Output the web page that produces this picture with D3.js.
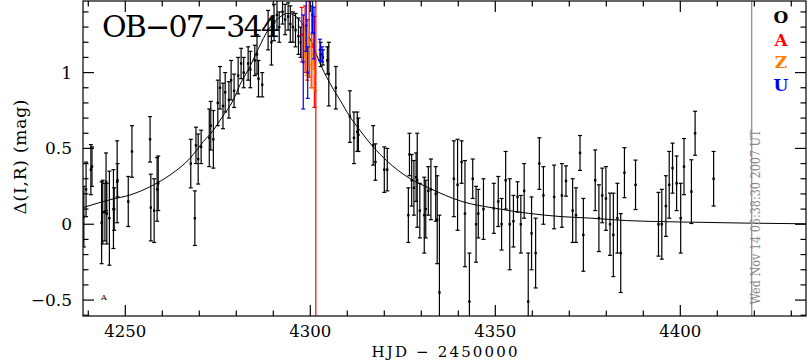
<!DOCTYPE html>
<head>
<meta charset="utf-8">
<script src="https://d3js.org/d3.v7.min.js"></script>
<style>
  body { margin: 0; background: #fff; }
  text { font-family: "DejaVu Serif", serif; }
</style>
</head>
<body>
<svg id="chart" width="807" height="362"></svg>
<script>
// O (black) data: time, magnitude difference, error
var oT = [4238.8,4239.4,4240.7,4241.0,4243.6,4243.9,4244.5,4244.8,4245.0,4245.7,4246.8,4247.0,4247.8,4247.9,4250.8,4251.8,4256.7,4256.9,4257.8,4258.6,4258.9,
  4267.7,4268.8,4269.1,4269.7,4270.5,4272.7,4273.1,4273.8,4275.0,4275.6,4276.4,4277.0,4278.0,4278.6,4279.4,4280.5,4281.3,4282.0,4283.2,4283.8,4285.0,4285.6,4286.0,4287.0,
  4288.6,4289.5,4290.2,4291.0,4291.6,4292.5,4293.2,4294.0,4294.6,4295.3,4296.0,4296.8,4297.4,4302.8,4303.4,4304.6,4305.0,4306.9,
  4310.7,4311.8,4312.7,4313.0,4317.0,4317.6,4320.0,4320.8,4326.8,4326.5,4327.4,4328.0,4328.6,4328.9,4329.6,4330.8,4331.2,4331.9,4332.6,4333.9,4334.3,4334.9,
  4338.8,4339.8,4340.9,4341.8,4343.0,4343.9,4344.8,4345.4,4346.8,4349.6,4350.8,4351.7,4352.8,4353.9,4354.9,4356.0,4356.9,4357.8,4358.9,4359.8,4360.9,4361.9,4363.0,
  4365.9,4368.0,4369.1,4370.9,4371.8,4372.9,4373.8,4377.0,4378.0,4378.9,4379.9,4381.0,4381.9,4383.0,4383.9,4384.9,4387.9,
  4394.1,4395.0,4396.1,4397.0,4397.9,4399.0,4400.1,4401.0,4403.0,4404.0,4409.0];
var oMag = [0.05,0.23,0.36,0.38,0.01,0.08,0.08,0.28,0.07,0.04,0.10,0.10,0.28,0.29,0.15,0.48,0.56,0.11,0.09,0.23,0.27,
  0.40,0.04,0.52,0.43,0.51,0.57,0.65,0.56,0.80,0.90,0.78,0.87,0.82,0.95,0.88,0.98,1.06,1.00,1.06,1.02,1.08,1.12,0.96,0.92,
  1.28,1.20,1.33,1.38,1.30,1.40,1.35,1.37,1.32,1.30,1.28,1.24,1.20,1.12,1.10,1.08,0.99,0.90,
  0.71,0.57,0.61,0.59,0.52,0.41,0.36,0.36,0.46,0.06,0.29,0.24,0.31,0.29,0.09,0.06,0.10,0.22,0.23,0.20,0.03,-0.45,
  0.30,0.26,0.41,0.07,-0.51,0.30,0.00,0.07,0.10,0.105,0.15,0.00,0.29,0.00,0.02,0.18,0.00,0.22,-0.51,-0.06,-0.19,0.40,0.19,
  0.18,0.19,0.285,0.09,0.06,0.47,-0.07,0.29,0.04,0.19,0.17,0.00,-0.07,0.04,-0.19,0.34,0.26,
  0.00,0.00,0.12,0.26,0.37,0.27,0.04,0.38,0.215,0.60,0.30];
var oErr = [0.20,0.18,0.165,0.13,0.27,0.21,0.19,0.19,0.20,0.31,0.26,0.14,0.27,0.11,0.165,0.17,0.15,0.22,0.21,0.21,0.18,
  0.16,0.18,0.12,0.165,0.11,0.19,0.16,0.19,0.15,0.14,0.15,0.13,0.12,0.13,0.11,0.12,0.10,0.10,0.11,0.12,0.10,0.13,0.12,0.08,
  0.13,0.15,0.12,0.10,0.10,0.08,0.10,0.09,0.12,0.10,0.11,0.12,0.10,0.08,0.05,0.09,0.21,0.14,
  0.17,0.17,0.13,0.11,0.13,0.12,0.15,0.14,0.14,0.18,0.17,0.18,0.16,0.31,0.18,0.25,0.19,0.16,0.20,0.18,0.29,0.51,
  0.25,0.30,0.14,0.35,0.32,0.13,0.25,0.16,0.20,0.165,0.165,0.17,0.19,0.30,0.17,0.10,0.19,0.18,0.32,0.24,0.23,0.17,0.19,
  0.21,0.21,0.10,0.21,0.18,0.115,0.24,0.20,0.22,0.18,0.21,0.205,0.275,0.23,0.26,0.165,0.163,
  0.21,0.23,0.20,0.22,0.165,0.18,0.23,0.185,0.21,0.145,0.18];

// A (red)
var aT = [4297.7,4298.6,4299.2,4299.7,4300.4,4301.1];
var aMag = [1.25,1.22,1.15,1.22,1.17,1.07];
var aErr = [0.18,0.22,0.20,0.25,0.27,0.30];
// Z (orange)
var zT = [4298.4,4299.0,4299.3,4299.6,4300.2,4300.8,4301.3];
var zMag = [1.20,1.10,1.25,1.15,1.05,1.12,1.00];
var zErr = [0.10,0.12,0.08,0.10,0.15,0.10,0.12];
// U (blue)
var uT = [4298.1,4298.9,4299.3,4300.6,4301.0,4302.6,4303.2];
var uMag = [1.07,1.31,1.00,1.38,1.26,1.15,1.12];
var uErr = [0.31,0.17,0.17,0.12,0.17,0.07,0.05];

// model curve
var fitT = [4238.6,4246.4,4251.3,4257.6,4262.1,4267.5,4271.1,4273.8,4276,4279.2,4281,4283.7,4286,4288.6,4291,4294,4297,4300,4303,4306,4308,4310.7,4313.4,4317,4320.6,4327,4332,4341,4350,4359,4368,4376,4385.5,4400,4419,4434];
var fitMag = [0.11,0.165,0.193,0.259,0.325,0.435,0.545,0.62,0.70,0.82,0.92,1.04,1.16,1.28,1.35,1.39,1.35,1.22,1.04,0.90,0.82,0.71,0.62,0.51,0.42,0.30,0.24,0.15,0.105,0.072,0.05,0.04,0.024,0.015,0.007,0.003];

var series = [
  {name: "A", color: "#ff0000", t: aT, m: aMag, e: aErr},
  {name: "Z", color: "#ff8000", t: zT, m: zMag, e: zErr},
  {name: "U", color: "#0000ff", t: uT, m: uMag, e: uErr}
];
var legend = ["O", "A", "Z", "U"];
var legendColors = ["#000000", "#ff0000", "#ff8000", "#0000ff"];
var xTicks = [4250, 4300, 4350, 4400];
var yTicks = [-0.5, 0, 0.5, 1];
var t0Line = 4301.5;
var stampT = 4419.3;

var svg = d3.select("#chart");
var pL = 83, pR = 806, pT = 1, pB = 316;

var x = d3.scaleLinear().domain([4238.57, 4433.97]).range([pL, pR]);
var y = d3.scaleLinear().domain([-0.605, 1.472]).range([pB, pT]);

svg.append("clipPath").attr("id", "clip")
  .append("rect").attr("x", pL).attr("y", pT).attr("width", pR - pL).attr("height", pB - pT);

var plot = svg.append("g").attr("clip-path", "url(#clip)");

function drawBars(g, t, m, e, color) {
  var d = t.map(function(v, i) { return {t: v, m: m[i], e: e[i]}; });
  var grp = g.append("g").attr("stroke", color).attr("stroke-width", 1.2).attr("fill", color);
  grp.selectAll("line.bar").data(d).enter().append("line")
    .attr("x1", function(p) { return x(p.t); }).attr("x2", function(p) { return x(p.t); })
    .attr("y1", function(p) { return y(p.m - p.e); }).attr("y2", function(p) { return y(p.m + p.e); });
  grp.selectAll("line.capt").data(d).enter().append("line")
    .attr("x1", function(p) { return x(p.t) - 2; }).attr("x2", function(p) { return x(p.t) + 2; })
    .attr("y1", function(p) { return y(p.m + p.e); }).attr("y2", function(p) { return y(p.m + p.e); });
  grp.selectAll("line.capb").data(d).enter().append("line")
    .attr("x1", function(p) { return x(p.t) - 2; }).attr("x2", function(p) { return x(p.t) + 2; })
    .attr("y1", function(p) { return y(p.m - p.e); }).attr("y2", function(p) { return y(p.m - p.e); });
  grp.selectAll("rect").data(d).enter().append("rect")
    .attr("x", function(p) { return x(p.t) - 1.2; }).attr("y", function(p) { return y(p.m) - 1.2; })
    .attr("width", 2.4).attr("height", 2.4).attr("stroke", "none");
}

drawBars(plot, oT, oMag, oErr, "#000");

var fit = fitT.map(function(v, i) { return [v, fitMag[i]]; });
plot.append("path").datum(fit)
  .attr("fill", "none").attr("stroke", "#000").attr("stroke-width", 1)
  .attr("d", d3.line().x(function(p) { return x(p[0]); }).y(function(p) { return y(p[1]); }).curve(d3.curveMonotoneX));

series.forEach(function(s) { drawBars(plot, s.t, s.m, s.e, s.color); });

plot.append("line").attr("x1", x(t0Line)).attr("x2", x(t0Line)).attr("y1", pT).attr("y2", pB)
  .attr("stroke", "#ff0000").attr("stroke-width", 1.2);

// timestamp line and text
svg.append("line").attr("x1", x(stampT)).attr("x2", x(stampT)).attr("y1", pT).attr("y2", pB)
  .attr("stroke", "#888").attr("stroke-width", 1.2);
svg.append("text").attr("transform", "translate(" + (x(stampT) + 8) + ",217) rotate(-90)")
  .attr("text-anchor", "middle").attr("font-size", 12).attr("fill", "#888")
  .attr("textLength", 175).attr("lengthAdjust", "spacingAndGlyphs")
  .text("Wed Nov 14 05:38:30 2007 UT");

// axes, ticks on all four sides
var axisG = svg.append("g").attr("stroke", "#000").attr("stroke-width", 1.2).attr("fill", "none");
axisG.append("rect").attr("x", pL).attr("y", pT).attr("width", pR - pL).attr("height", pB - pT);

var xMinor = d3.range(4240, 4434, 10);
xMinor.forEach(function(v) {
  var major = v % 50 === 0;
  var len = major ? 11 : 5.5;
  axisG.append("line").attr("x1", x(v)).attr("x2", x(v)).attr("y1", pB).attr("y2", pB - len);
  axisG.append("line").attr("x1", x(v)).attr("x2", x(v)).attr("y1", pT).attr("y2", pT + len);
});
var yMinor = d3.range(-6, 15).map(function(i) { return i / 10; });
yMinor.forEach(function(v) {
  var major = Math.round(Math.abs(v * 10)) % 5 === 0;
  var len = major ? 11 : 5.5;
  axisG.append("line").attr("x1", pL).attr("x2", pL + len).attr("y1", y(v)).attr("y2", y(v));
  axisG.append("line").attr("x1", pR).attr("x2", pR - len).attr("y1", y(v)).attr("y2", y(v));
});

svg.selectAll("text.xt").data(xTicks).enter().append("text")
  .attr("x", function(v) { return x(v); }).attr("y", 337)
  .attr("text-anchor", "middle").attr("font-size", 16.5)
  .text(function(v) { return v; });
svg.selectAll("text.yt").data(yTicks).enter().append("text")
  .attr("x", 72).attr("y", function(v) { return y(v) + 6; })
  .attr("text-anchor", "end").attr("font-size", 17)
  .text(function(v) { return v < 0 ? "\u2212" + Math.abs(v) : v; });

svg.append("text").attr("x", (pL + pR) / 2).attr("y", 357)
  .attr("text-anchor", "middle").attr("font-size", 15)
  .attr("textLength", 146).attr("lengthAdjust", "spacing")
  .text("HJD \u2212 2450000");
svg.append("text").attr("transform", "translate(26,157) rotate(-90)")
  .attr("text-anchor", "middle").attr("font-size", 17)
  .attr("textLength", 115).attr("lengthAdjust", "spacing")
  .text("\u0394(I,R) (mag)");

// title
svg.append("text").attr("x", 102).attr("y", 37).attr("font-size", 30)
  .attr("textLength", 178).attr("lengthAdjust", "spacing")
  .text("OB\u221207\u2212344");

// legend
svg.selectAll("text.lg").data(legend).enter().append("text")
  .attr("x", 781).attr("y", function(d, i) { return 23 + i * 22.5; })
  .attr("text-anchor", "middle").attr("font-size", 17).attr("font-weight", "bold")
  .attr("fill", function(d, i) { return legendColors[i]; })
  .text(function(d) { return d; });

svg.append("text").attr("x", 104).attr("y", 300).attr("text-anchor", "middle")
  .attr("font-size", 8).text("A");
</script>
</body>
</html>
